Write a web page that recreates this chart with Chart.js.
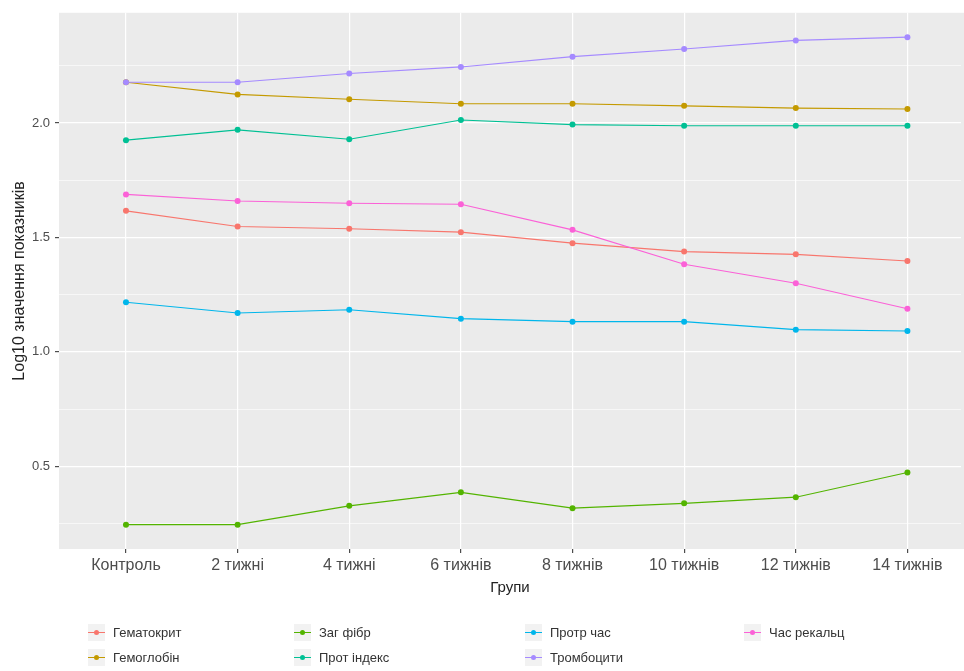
<!DOCTYPE html>
<html>
<head>
<meta charset="utf-8">
<script src="https://cdn.jsdelivr.net/npm/chart.js@4/dist/chart.umd.min.js"></script>
<style>
    html, body { margin: 0; padding: 0; background: #fff; }
    #wrap { position: relative; width: 964px; height: 671px; overflow: hidden; }
    #chart-1 { position: absolute; left: 0; top: 0; }
    .leg-item { position: absolute; height: 17px; display: flex; align-items: center;
        font-family: 'Liberation Sans Narrow', 'Liberation Sans', Arial, sans-serif; font-size: 13px; color: #333; white-space: nowrap; }
    .leg-key { position: relative; width: 17px; height: 17px; background: #F2F2F2; margin-right: 8px; }
    .leg-line { position: absolute; left: 0; right: 0; top: 8px; height: 1px; }
    .leg-dot { position: absolute; left: 6px; top: 6px; width: 5px; height: 5px; border-radius: 50%; }
</style>
</head>
<body>
<div id="wrap">
    <canvas id="chart-1" width="964" height="671"></canvas>
    <div id="legend"></div>
</div>
<script>
// Групи (x categories)
const groups = ['Контроль', '2 тижні', '4 тижні', '6 тижнів', '8 тижнів', '10 тижнів', '12 тижнів', '14 тижнів'];

// Log10 values per indicator
const gematokryt  = [1.616, 1.548, 1.538, 1.523, 1.475, 1.438, 1.426, 1.397];
const gemoglobin  = [2.178, 2.125, 2.104, 2.084, 2.084, 2.075, 2.065, 2.061];
const zagFibr     = [0.245, 0.245, 0.327, 0.386, 0.317, 0.338, 0.365, 0.473];
const protIndex   = [1.925, 1.970, 1.929, 2.013, 1.993, 1.988, 1.988, 1.988];
const protrChas   = [1.217, 1.170, 1.184, 1.145, 1.132, 1.132, 1.097, 1.091];
const trombocyty  = [2.178, 2.178, 2.216, 2.245, 2.290, 2.323, 2.361, 2.375];
const chasRekalc  = [1.688, 1.659, 1.649, 1.645, 1.533, 1.383, 1.300, 1.188];

const seriesNames = ['Гематокрит', 'Гемоглобін', 'Заг фібр', 'Прот індекс', 'Протр час', 'Тромбоцити', 'Час рекальц'];
const seriesData = [gematokryt, gemoglobin, zagFibr, protIndex, protrChas, trombocyty, chasRekalc];
const colors = ['#F8766D', '#C49A00', '#53B400', '#00C094', '#00B6EB', '#A58AFF', '#FB61D7'];

const fontFam = "'Liberation Sans Narrow', 'Liberation Sans', Arial, sans-serif";

const datasets = seriesNames.map(function(name, i) {
    return {
        label: name,
        data: seriesData[i].map(function(v, k) { return {x: k, y: v}; }),
        borderColor: colors[i],
        backgroundColor: colors[i],
        borderWidth: 1.1,
        pointRadius: 3,
        pointBorderWidth: 0,
        pointHoverRadius: 3,
        tension: 0,
        order: seriesNames.length - i
    };
});

// panel background like ggplot theme_gray
const panelBg = {
    id: 'panelBg',
    beforeDraw(chart) {
        const {ctx, chartArea: a} = chart;
        ctx.save();
        ctx.fillStyle = '#fff';
        ctx.fillRect(0, 0, chart.width, chart.height);
        ctx.fillStyle = '#EBEBEB';
        ctx.fillRect(a.left, a.top, chart.width - a.left, a.bottom - a.top);
        ctx.restore();
    }
};

function isMajor(v) {
    return Math.abs(v * 2 - Math.round(v * 2)) < 1e-6;
}

const chart1 = new Chart(document.getElementById('chart-1'), {
    type: 'line',
    data: { datasets: datasets },
    options: {
        responsive: false,
        animation: false,
        events: [],
        layout: { padding: { left: 0, top: 10, right: 0, bottom: 70 } },
        plugins: { legend: { display: false }, tooltip: { enabled: false } },
        scales: {
            x: {
                type: 'linear',
                min: -0.6,
                max: 7.48,
                afterFit(scale) { scale.height = 52; },
                border: { display: false },
                grid: { color: '#FFFFFF', lineWidth: 1.2, tickColor: '#4D4D4D', tickLength: 4, drawTicks: true },
                ticks: {
                    stepSize: 1,
                    includeBounds: false,
                    autoSkip: false,
                    maxRotation: 0,
                    padding: 3,
                    color: '#4D4D4D',
                    font: { family: fontFam, size: 16 },
                    callback: function(v) { return Number.isInteger(v) ? groups[v] : ''; }
                },
                title: {
                    display: true,
                    text: 'Групи',
                    color: '#222',
                    font: { family: fontFam, size: 15 },
                    padding: { top: 0, bottom: 4 }
                }
            },
            y: {
                min: 0.1385,
                max: 2.4815,
                afterFit(scale) { scale.width = 59; },
                border: { display: false },
                grid: {
                    color: '#FFFFFF',
                    lineWidth: function(c) { return isMajor(c.tick.value) ? 1.2 : 0.6; },
                    tickColor: function(c) { return isMajor(c.tick.value) ? '#4D4D4D' : 'rgba(0,0,0,0)'; },
                    tickLength: 4
                },
                ticks: {
                    stepSize: 0.25,
                    includeBounds: false,
                    maxTicksLimit: 20,
                    padding: 5,
                    color: '#4D4D4D',
                    font: { family: fontFam, size: 13 },
                    callback: function(v) { return isMajor(v) ? v.toFixed(1) : ''; }
                },
                title: {
                    display: true,
                    text: 'Log10 значення показників',
                    color: '#222',
                    font: { family: fontFam, size: 16 },
                    padding: { top: 10, bottom: 0 }
                }
            }
        }
    },
    plugins: [panelBg]
});

// legend in ggplot layout: 4 columns, 2 rows, filled by column
const legendCols = [88, 294, 525, 744];
const legendRows = [624, 649];
const legend = document.getElementById('legend');
chart1.data.datasets.forEach(function(ds, i) {
    const item = document.createElement('div');
    item.className = 'leg-item';
    item.style.left = legendCols[Math.floor(i / 2)] + 'px';
    item.style.top = legendRows[i % 2] + 'px';
    item.innerHTML = '<div class="leg-key"><div class="leg-line" style="background:' + ds.borderColor +
        '"></div><div class="leg-dot" style="background:' + ds.borderColor + '"></div></div>' + ds.label;
    legend.appendChild(item);
});
</script>
</body>
</html>
